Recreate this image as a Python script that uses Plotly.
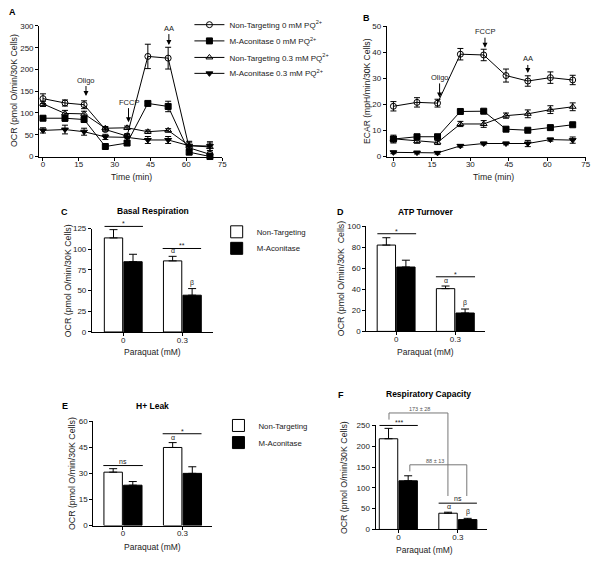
import plotly.graph_objects as go

W, H = 600, 563
FONT = "Liberation Sans, Arial, sans-serif"
TXT = "#1a1a1a"

# ---------------- data ----------------
time_min = [0, 9.2, 17.2, 26.1, 35.2, 43.9, 52.4, 61.2, 69.9]

series_names = [
    "Non-Targeting 0 mM PQ<sup>2+</sup>",
    "M-Aconitase 0 mM PQ<sup>2+</sup>",
    "Non-Targeting 0.3 mM PQ<sup>2+</sup>",
    "M-Aconitase 0.3 mM PQ<sup>2+</sup>",
]
series_symbols = ["circle-open", "square", "triangle-up-open", "triangle-down"]

ocr_nt0 = [133, 123, 119, 62, 47, 230, 226, 20, 5]
ocr_nt0_err = [11, 7, 9, 4, 4, 28, 25, 4, 3]
ocr_ma0 = [88, 88, 85, 23, 31, 122, 115, 10, 0]
ocr_ma0_err = [5, 7, 6, 4, 4, 5, 12, 5, 2]
ocr_nt03 = [121, 99, 98, 65, 66, 57, 60, 25, 22]
ocr_nt03_err = [6, 7, 6, 4, 4, 4, 4, 10, 9]
ocr_ma03 = [60, 62, 57, 45, 44, 38, 38, 25, 24]
ocr_ma03_err = [6, 10, 8, 6, 8, 8, 8, 8, 10]

ecar_nt0 = [19.3, 20.8, 20.5, 39.3, 39.0, 31.1, 29.0, 30.3, 29.4]
ecar_nt0_err = [1.8, 1.8, 1.5, 2.2, 2.2, 2.5, 2.0, 2.2, 1.8]
ecar_ma0 = [6.7, 7.6, 7.6, 17.3, 17.4, 10.5, 10.1, 11.1, 12.2]
ecar_ma0_err = [1.5, 0.8, 0.8, 0.6, 0.6, 0.7, 0.6, 0.8, 0.6]
ecar_nt03 = [6.8, 5.9, 5.4, 12.5, 12.5, 15.7, 16.4, 18.0, 19.1]
ecar_nt03_err = [0.8, 0.8, 0.8, 1.0, 1.3, 1.0, 1.5, 1.5, 1.5]
ecar_ma03 = [1.6, 1.5, 1.4, 4.1, 5.0, 5.0, 5.0, 6.5, 6.3]
ecar_ma03_err = [0.5, 0.5, 0.5, 0.5, 0.5, 0.5, 1.2, 0.6, 1.2]

paraquat_pos = [0, 1]
paraquat_labels = ["0", "0.3"]
group_names = ["Non-Targeting", "M-Aconitase"]

basal_nt = [113.8, 86.0]
basal_nt_err = [10, 5.5]
basal_ma = [85.0, 44.5]
basal_ma_err = [9, 8]

atp_nt = [82.2, 40.7]
atp_nt_err = [7, 2.5]
atp_ma = [61.3, 17.5]
atp_ma_err = [6.5, 3.8]

leak_nt = [30.7, 44.9]
leak_nt_err = [2.0, 2.8]
leak_ma = [23.2, 30.0]
leak_ma_err = [2.1, 3.8]

cap_nt = [218, 39]
cap_nt_err = [25, 2.5]
cap_ma = [117, 23.7]
cap_ma_err = [12, 3]

# ---------------- helpers ----------------
def dom_x(l, r):
    return [l / W, r / W]

def dom_y(top, bottom):
    return [1 - bottom / H, 1 - top / H]

def pax(px):
    return px / W

def pay(py):
    return 1 - py / H

def frac(v, rng):
    return (v - rng[0]) / (rng[1] - rng[0])

fig = go.Figure()

# ---------------- A & B line plots ----------------
ocr_sets = [(ocr_nt0, ocr_nt0_err), (ocr_ma0, ocr_ma0_err), (ocr_nt03, ocr_nt03_err), (ocr_ma03, ocr_ma03_err)]
ecar_sets = [(ecar_nt0, ecar_nt0_err), (ecar_ma0, ecar_ma0_err), (ecar_nt03, ecar_nt03_err), (ecar_ma03, ecar_ma03_err)]
legend_ids_A = ["legend", "legend2", "legend3", "legend4"]

for i in range(4):
    vals, err = ocr_sets[i]
    fig.add_trace(go.Scatter(
        x=time_min, y=vals, mode="lines+markers", name=series_names[i],
        line=dict(color="black", width=1),
        marker=dict(symbol=series_symbols[i], size=6, color="black",
                    line=dict(color="black", width=1)),
        error_y=dict(type="data", array=err, thickness=1, width=3, color="black"),
        cliponaxis=False, xaxis="x", yaxis="y", legend=legend_ids_A[i]))
for i in range(4):
    vals, err = ecar_sets[i]
    fig.add_trace(go.Scatter(
        x=time_min, y=vals, mode="lines+markers", name=series_names[i],
        line=dict(color="black", width=1),
        marker=dict(symbol=series_symbols[i], size=6, color="black",
                    line=dict(color="black", width=1)),
        error_y=dict(type="data", array=err, thickness=1, width=3, color="black"),
        cliponaxis=False, xaxis="x2", yaxis="y2", showlegend=False))

# ---------------- bar panels ----------------
bar_panels = [
    ("x3", "y3", basal_nt, basal_nt_err, basal_ma, basal_ma_err, ("legend5", "legend6")),
    ("x4", "y4", atp_nt, atp_nt_err, atp_ma, atp_ma_err, None),
    ("x5", "y5", leak_nt, leak_nt_err, leak_ma, leak_ma_err, ("legend7", "legend8")),
    ("x6", "y6", cap_nt, cap_nt_err, cap_ma, cap_ma_err, None),
]
for xa, ya, nt, nte, ma, mae, legs in bar_panels:
    for k, (vals, err, fill, off) in enumerate([(nt, nte, "white", -0.32), (ma, mae, "black", 0.01)]):
        kw = dict(showlegend=False)
        if legs:
            kw = dict(showlegend=True, legend=legs[k])
        fig.add_trace(go.Bar(
            x=paraquat_pos, y=vals, name=group_names[k], width=0.31, offset=off,
            marker=dict(color=fill, line=dict(color="black", width=1)),
            error_y=dict(type="data", symmetric=False, array=err, arrayminus=[0, 0],
                         thickness=1, width=4, color="black"),
            xaxis=xa, yaxis=ya, **kw))

# ---------------- axes ----------------
common = dict(showline=True, linecolor="black", linewidth=1, ticks="outside", ticklen=3,
              tickwidth=1, tickcolor="black", showgrid=False, zeroline=False,
              tickfont=dict(size=8, color=TXT, family=FONT), fixedrange=True)
xcommon = dict(common, ticklabelstandoff=-3)

rng = {
    "x": [-1.6, 75], "y": [0, 300],
    "x2": [-2.6, 75], "y2": [0, 50],
    "x3": [-0.53, 1.51], "y3": [0, 125],
    "x4": [-0.505, 1.505], "y4": [0, 100],
    "x5": [-0.5, 1.488], "y5": [0, 60],
    "x6": [-0.383, 1.488], "y6": [0, 250],
}

layout_axes = dict(
    xaxis=dict(domain=dom_x(39.5, 224), range=rng["x"], tickvals=[0, 15, 30, 45, 60, 75], anchor="y", **xcommon),
    yaxis=dict(domain=dom_y(22.3, 155), range=rng["y"], dtick=50, anchor="x", **common),
    xaxis2=dict(domain=dom_x(390, 590.7), range=rng["x2"], tickvals=[0, 15, 30, 45, 60, 75], anchor="y2", **xcommon),
    yaxis2=dict(domain=dom_y(22.7, 155), range=rng["y2"], dtick=10, anchor="x2", **common),
    xaxis3=dict(domain=dom_x(92.7, 214.3), range=rng["x3"], tickvals=paraquat_pos, ticktext=paraquat_labels, anchor="y3", **xcommon),
    yaxis3=dict(domain=dom_y(228.3, 333.3), range=rng["y3"], dtick=25, anchor="x3", **common),
    xaxis4=dict(domain=dom_x(369.3, 489.3), range=rng["x4"], tickvals=paraquat_pos, ticktext=paraquat_labels, anchor="y4", **xcommon),
    yaxis4=dict(domain=dom_y(226, 332.7), range=rng["y4"], dtick=20, anchor="x4", **common),
    xaxis5=dict(domain=dom_x(94, 213.3), range=rng["x5"], tickvals=paraquat_pos, ticktext=paraquat_labels, anchor="y5", **xcommon),
    yaxis5=dict(domain=dom_y(424, 530), range=rng["y5"], dtick=15, anchor="x5", **common),
    xaxis6=dict(domain=dom_x(378.7, 491), range=rng["x6"], tickvals=paraquat_pos, ticktext=paraquat_labels, anchor="y6", **xcommon),
    yaxis6=dict(domain=dom_y(428.3, 534), range=rng["y6"], dtick=50, anchor="x6", **common),
)

# ---------------- legends (one entry each, positioned individually) ----------------
def leg(text_px, row_py, size=8):
    return dict(x=pax(text_px - 38), y=pay(row_py), xanchor="left", yanchor="middle",
                bgcolor="rgba(0,0,0,0)", borderwidth=0, itemwidth=30,
                font=dict(size=size, color=TXT, family=FONT))

legends = dict(
    legend=leg(229, 21), legend2=leg(229, 37.5), legend3=leg(229, 54.3), legend4=leg(229, 70.5),
    legend5=leg(256.5, 231.5, 7.8), legend6=leg(256.5, 248.3, 7.8),
    legend7=leg(258.3, 428.3, 7.8), legend8=leg(258.3, 445.7, 7.8),
)

# ---------------- annotations ----------------
ann = []

def text_paper(txt, x, y, size, bold=False, angle=0, color=TXT):
    ann.append(dict(text=("<b>%s</b>" % txt) if bold else txt, x=pax(x), y=pay(y),
                    xref="paper", yref="paper", showarrow=False, textangle=angle,
                    xanchor="center", yanchor="middle",
                    font=dict(size=size, color=color, family=FONT)))

# panel letters
for L, x, y in [("A", 13, 8), ("B", 370, 14), ("C", 65, 211), ("D", 343, 211), ("E", 66, 409), ("F", 343.5, 397)]:
    text_paper(L, x, y, 9, bold=True, color="black")
# panel titles
for t, x, y in [("Basal Respiration", 154, 210.7), ("ATP Turnover", 429, 211),
                ("H+ Leak", 154, 408.7), ("Respiratory Capacity", 431.7, 396.7)]:
    text_paper(t, x, y, 8.5, bold=True, color="black")
# axis titles
text_paper("Time (min)", 132.7, 175.5, 8.7)
text_paper("Time (min)", 497.7, 175.5, 8.7)
text_paper("OCR (pmol O/min/30K Cells)", 13.5, 88, 8.8, angle=-90)
text_paper("ECAR (mpH/min/30K Cells)", 369.5, 88, 8.6, angle=-90)
text_paper("OCR (pmol O/min/30K Cells)", 68.3, 281, 8.8, angle=-90)
text_paper("OCR (pmol O/min/30K  Cells)", 343.5, 279, 8.8, angle=-90)
text_paper("OCR (pmol O/min/30K Cells)", 73.3, 477, 8.8, angle=-90)
text_paper("OCR (pmol O/min/30K Cells)", 346.7, 481, 8.8, angle=-90)
for x, y in [(154, 353.3), (428.7, 353.3), (154, 552.3), (428, 555)]:
    text_paper("Paraquat (mM)", x, y, 8.5)

# injection arrows (data coords)
inj = [("x", "y", "Oligo", 18.0, 139, -16), ("x", "y", "FCCP", 35.8, 79, -20),
       ("x", "y", "AA", 52.7, 256, -17),
       ("x2", "y2", "Oligo", 18.0, 22.7, -20), ("x2", "y2", "FCCP", 35.7, 41.8, -16),
       ("x2", "y2", "AA", 52.4, 32.1, -14)]
for xa, ya, t, x, y, ay in inj:
    ann.append(dict(text=t, x=x, y=y, xref=xa, yref=ya, showarrow=True, ax=0, ay=ay,
                    arrowhead=2, arrowsize=1, arrowwidth=1, arrowcolor="black",
                    font=dict(size=7.5, color=TXT, family=FONT)))

# significance lines (data units) and labels
shapes = []
def sig_line(xa, ya, x0, x1, y, color="black", width=1):
    shapes.append(dict(type="line", xref=xa + " domain", yref=ya + " domain",
                       x0=frac(x0, rng[xa]), x1=frac(x1, rng[xa]),
                       y0=frac(y, rng[ya]), y1=frac(y, rng[ya]),
                       line=dict(color=color, width=width)))

def vline(xa, ya, x, y0, y1, color="#777777", width=1):
    shapes.append(dict(type="line", xref=xa + " domain", yref=ya + " domain",
                       x0=frac(x, rng[xa]), x1=frac(x, rng[xa]),
                       y0=frac(y0, rng[ya]), y1=frac(y1, rng[ya]),
                       line=dict(color=color, width=width)))

def label(xa, ya, t, x, y, size=7, yshift=0, color=TXT):
    ann.append(dict(text=t, x=frac(x, rng[xa]), y=frac(y, rng[ya]),
                    xref=xa + " domain", yref=ya + " domain", showarrow=False,
                    xanchor="center", yanchor="bottom", yshift=yshift,
                    font=dict(size=size, color=color, family=FONT)))

sig = [
    ("x3", "y3", -0.317, 0.333, 127.7, "*"), ("x3", "y3", 0.667, 1.317, 101, "**"),
    ("x4", "y4", -0.317, 0.338, 93, "*"), ("x4", "y4", 0.672, 1.333, 52, "*"),
    ("x5", "y5", -0.33, 0.333, 34.5, "ns"), ("x5", "y5", 0.667, 1.32, 52.8, "*"),
    ("x6", "y6", -0.317, 0.327, 250, "***"), ("x6", "y6", 0.677, 1.32, 63.2, "ns"),
]
for xa, ya, x0, x1, y, t in sig:
    sig_line(xa, ya, x0, x1, y)
    label(xa, ya, t, (x0 + x1) / 2, y, size=7, yshift=(-3 if "*" in t else -1))

# alpha / beta markers above the 0.3 mM bars
greek = [("x3", "y3", 86.0 + 5.5, 44.5 + 8), ("x4", "y4", 40.7 + 2.5, 17.5 + 3.8),
         ("x5", "y5", 44.9 + 2.8, None), ("x6", "y6", 39 + 2.5, 23.7 + 3)]
for xa, ya, ya_top, yb_top in greek:
    label(xa, ya, "\u03b1", 0.845, ya_top, size=7)
    if yb_top is not None:
        label(xa, ya, "\u03b2", 1.165, yb_top, size=7)

# F brackets (grey)
sig_line("x6", "y6", -0.157, 0.833, 280, color="#777777")
vline("x6", "y6", -0.157, 280, 264)
vline("x6", "y6", 0.833, 280, 80.4)
label("x6", "y6", "173 \u00b1 28", 0.35, 280, size=5.5, yshift=-1, color="#555555")
sig_line("x6", "y6", 0.193, 1.15, 155.4, color="#777777")
vline("x6", "y6", 0.193, 155.4, 139.6)
vline("x6", "y6", 1.15, 155.4, 80.4)
label("x6", "y6", "88 \u00b1 13", 0.61, 155.4, size=5.5, yshift=-1, color="#555555")

fig.update_layout(
    width=W, height=H, margin=dict(l=0, r=0, t=0, b=0),
    paper_bgcolor="white", plot_bgcolor="white",
    font=dict(family=FONT, color=TXT, size=8),
    barmode="overlay", annotations=ann, shapes=shapes,
    **layout_axes, **legends,
)

fig.write_html("out.html", config={"displayModeBar": False},
               post_script="document.body.style.margin='0';document.body.style.overflow='hidden';")
